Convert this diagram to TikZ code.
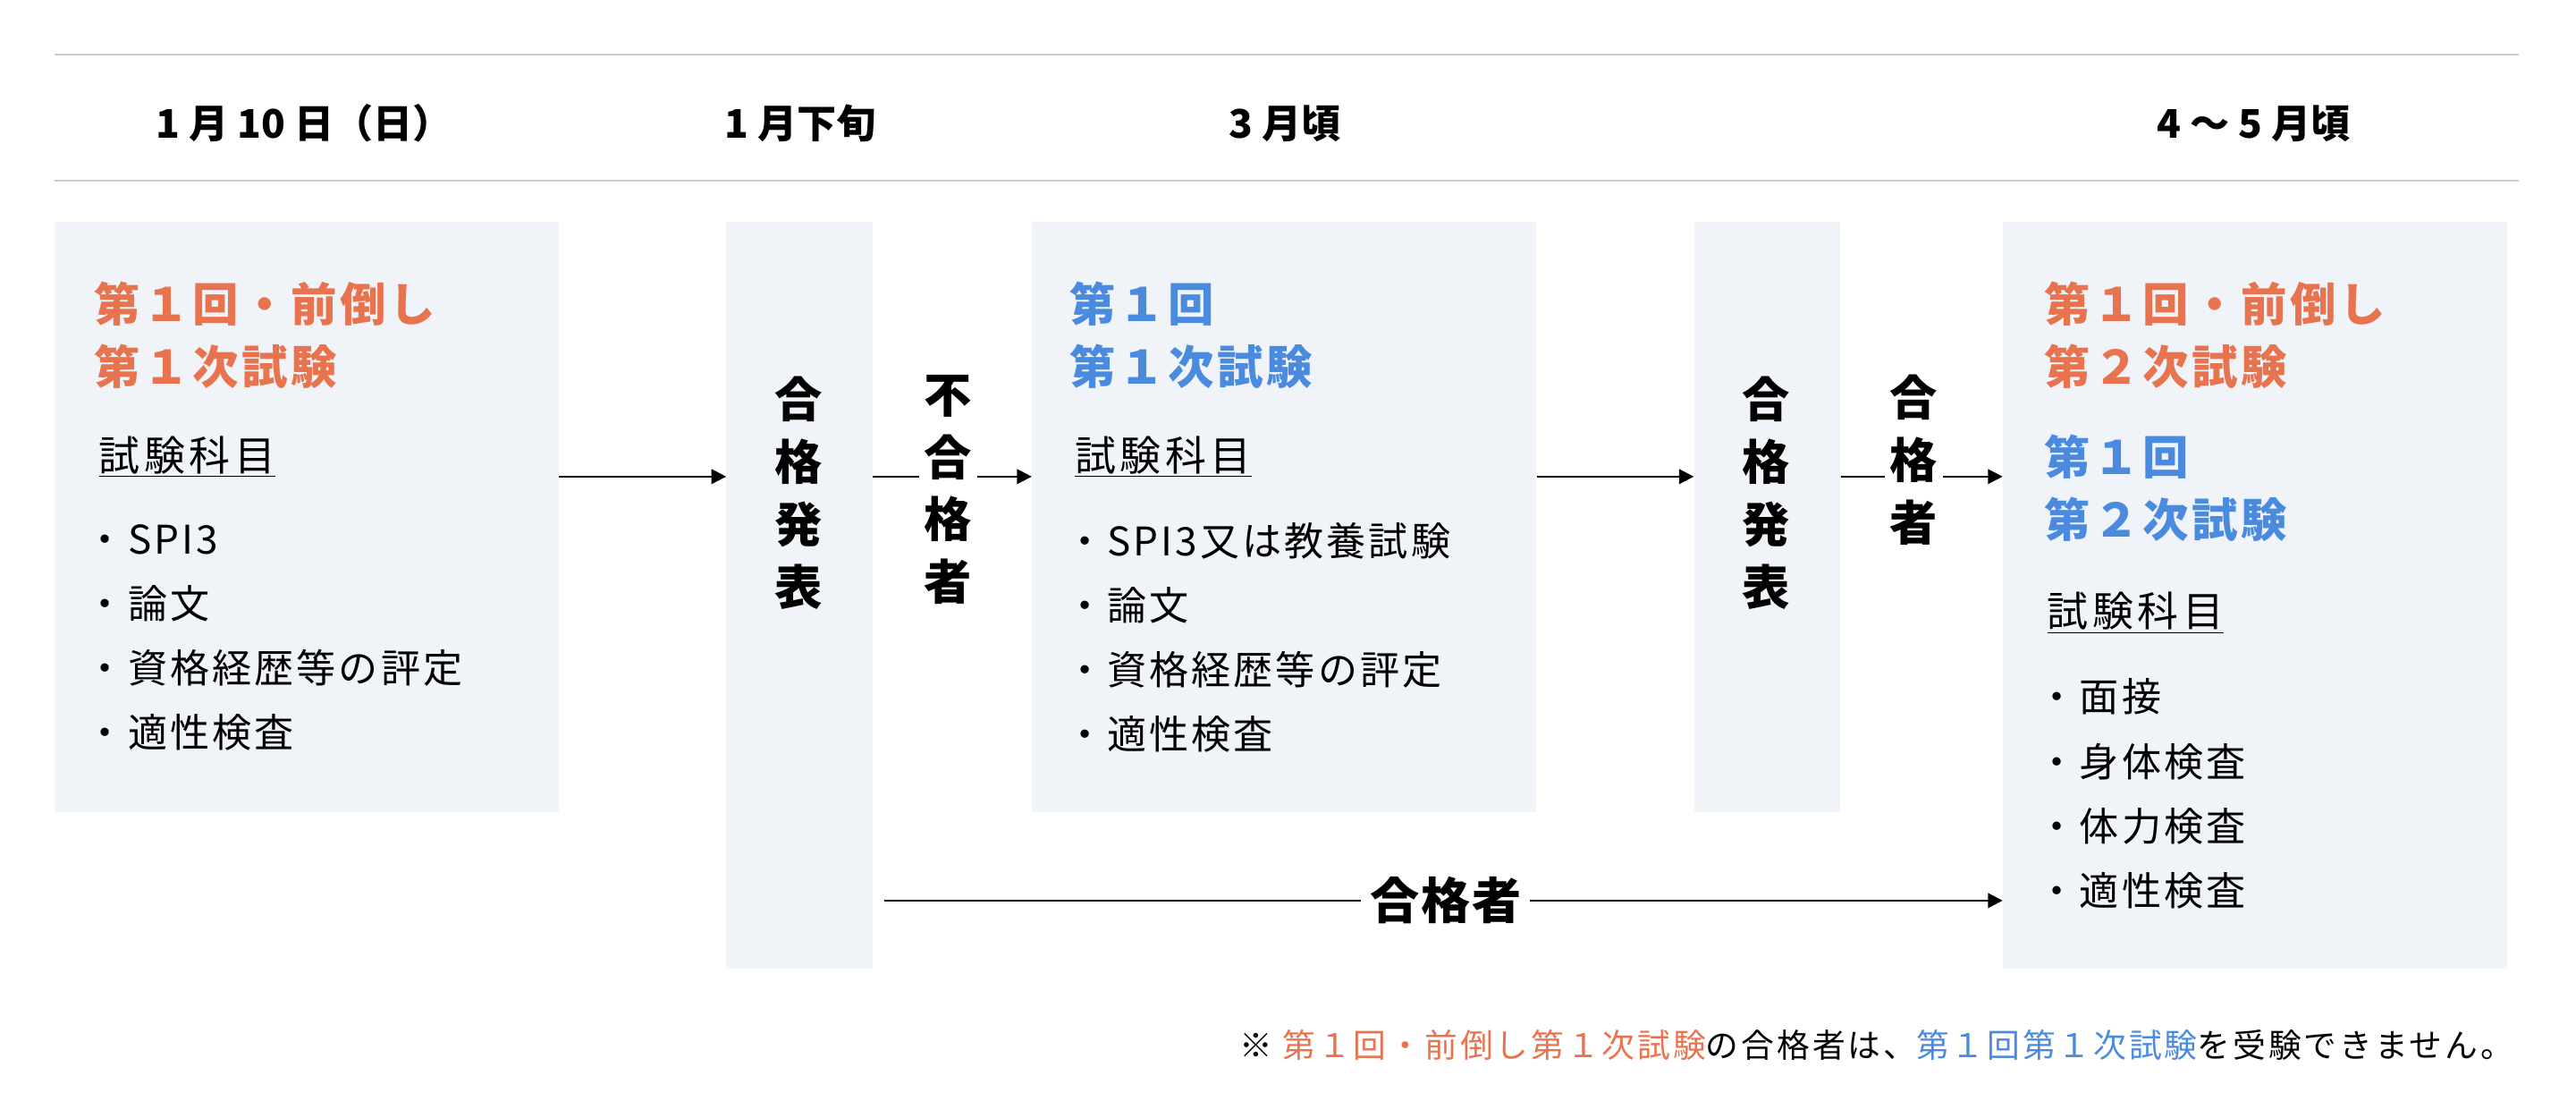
\documentclass[tikz,border=0pt]{standalone}
\usepackage{fontspec}
\setmainfont{Noto Sans CJK JP}
\definecolor{orn}{HTML}{E8744F}
\definecolor{blu}{HTML}{4A8BDF}
\definecolor{bx}{HTML}{F0F3F8}
\definecolor{ln}{HTML}{CCCCCC}
\usetikzlibrary{arrows.meta}
\newcommand{\ls}[1]{\addfontfeature{LetterSpace=#1}}
\begin{document}
\begin{tikzpicture}[x=1pt,y=-1pt,
 box/.style={fill=bx,draw=none},
 hd/.style={font=\fontsize{24}{28}\selectfont\bfseries},
 ttl/.style={anchor=west,font=\fontsize{28}{38}\selectfont\bfseries\ls{7},align=left,inner sep=0},
 sub/.style={anchor=west,font=\fontsize{25}{28}\selectfont\ls{10},inner sep=0},
 itm/.style={anchor=west,font=\fontsize{24}{39.3}\selectfont\ls{7},align=left,inner sep=0},
 vt/.style={font=\fontsize{29}{38}\selectfont\bfseries,align=center,inner sep=0},
 arr/.style={-{Triangle[length=9pt,width=9pt]},line width=1.2pt}]
\useasboundingbox (0,0) rectangle (1568,680);
\fill[white] (0,0) rectangle (1568,680);
\draw[ln,line width=1pt] (33,33) -- (1533,33);
\draw[ln,line width=1pt] (33,110) -- (1533,110);
\node[hd] (h1) at (185,75) {1 月 10 日（日）};
\node[hd] (h2) at (487,75) {1 月下旬};
\node[hd] (h3) at (782,75) {3 月頃};
\node[hd] (h4) at (1372,75) {4 ～ 5 月頃};
\node[box,minimum width=307,minimum height=359,anchor=north west,inner sep=0] (b1) at (33,135) {};
\node[box,minimum width=89,minimum height=454,anchor=north west,inner sep=0] (b2) at (442,135) {};
\node[box,minimum width=307,minimum height=359,anchor=north west,inner sep=0] (b3) at (628,135) {};
\node[box,minimum width=89,minimum height=359,anchor=north west,inner sep=0] (b4) at (1031,135) {};
\node[box,minimum width=307,minimum height=454,anchor=north west,inner sep=0] (b5) at (1219,135) {};
% box1
\node[ttl,text=orn] (t1) at (57,204) {第１回・前倒し\\第１次試験};
\node[sub] (s1) at (60,278) {\underline{試験科目}};
\node[itm] (i1) at (52,388) {・SPI3\\・論文\\・資格経歴等の評定\\・適性検査};
% box3
\node[ttl,text=blu] (t3) at (651,204) {第１回\\第１次試験};
\node[sub] (s3) at (654,278) {\underline{試験科目}};
\node[itm] (i3) at (648,388) {・SPI3又は教養試験\\・論文\\・資格経歴等の評定\\・適性検査};
% box5
\node[ttl,text=orn] (t5) at (1244,204) {第１回・前倒し\\第２次試験};
\node[ttl,text=blu] (t5b) at (1244,297) {第１回\\第２次試験};
\node[sub] (s5) at (1246,373) {\underline{試験科目}};
\node[itm] (i5) at (1240,483) {・面接\\・身体検査\\・体力検査\\・適性検査};
% vertical
\node[vt] (v2) at (486,300) {合\\格\\発\\表};
\node[vt] (v4) at (1075,300) {合\\格\\発\\表};
\node[vt,fill=white,inner sep=3pt] (l1) at (577,298) {不\\合\\格\\者};
\node[vt,fill=white,inner sep=3pt] (l2) at (1165,280) {合\\格\\者};
% arrows
\draw[arr] (b1.east|-0,290) -- (b2.west|-0,290);
\draw[line width=1.2pt] (b2.east|-0,290) -- (l1.west|-0,290);
\draw[arr] (l1.east|-0,290) -- (b3.west|-0,290);
\draw[arr] (b3.east|-0,290) -- (b4.west|-0,290);
\draw[line width=1.2pt] (b4.east|-0,290) -- (l2.west|-0,290);
\draw[arr] (l2.east|-0,290) -- (b5.west|-0,290);
\node[vt,fill=white,inner sep=5pt,font=\fontsize{30}{34}\selectfont\bfseries\ls{4}] (l3) at (880,548) {合格者};
\coordinate (c0) at (538,548);
\draw[line width=1.2pt] (c0) -- (l3.west);
\draw[arr] (l3.east) -- (b5.west|-0,548);
\node[anchor=east,font=\fontsize{20}{22}\selectfont\ls{8},inner sep=0] (fn) at (1530,636) {※ \textcolor{orn}{第１回・前倒し第１次試験}の合格者は、\textcolor{blu}{第１回第１次試験}を受験できません。};
\end{tikzpicture}
\end{document}
